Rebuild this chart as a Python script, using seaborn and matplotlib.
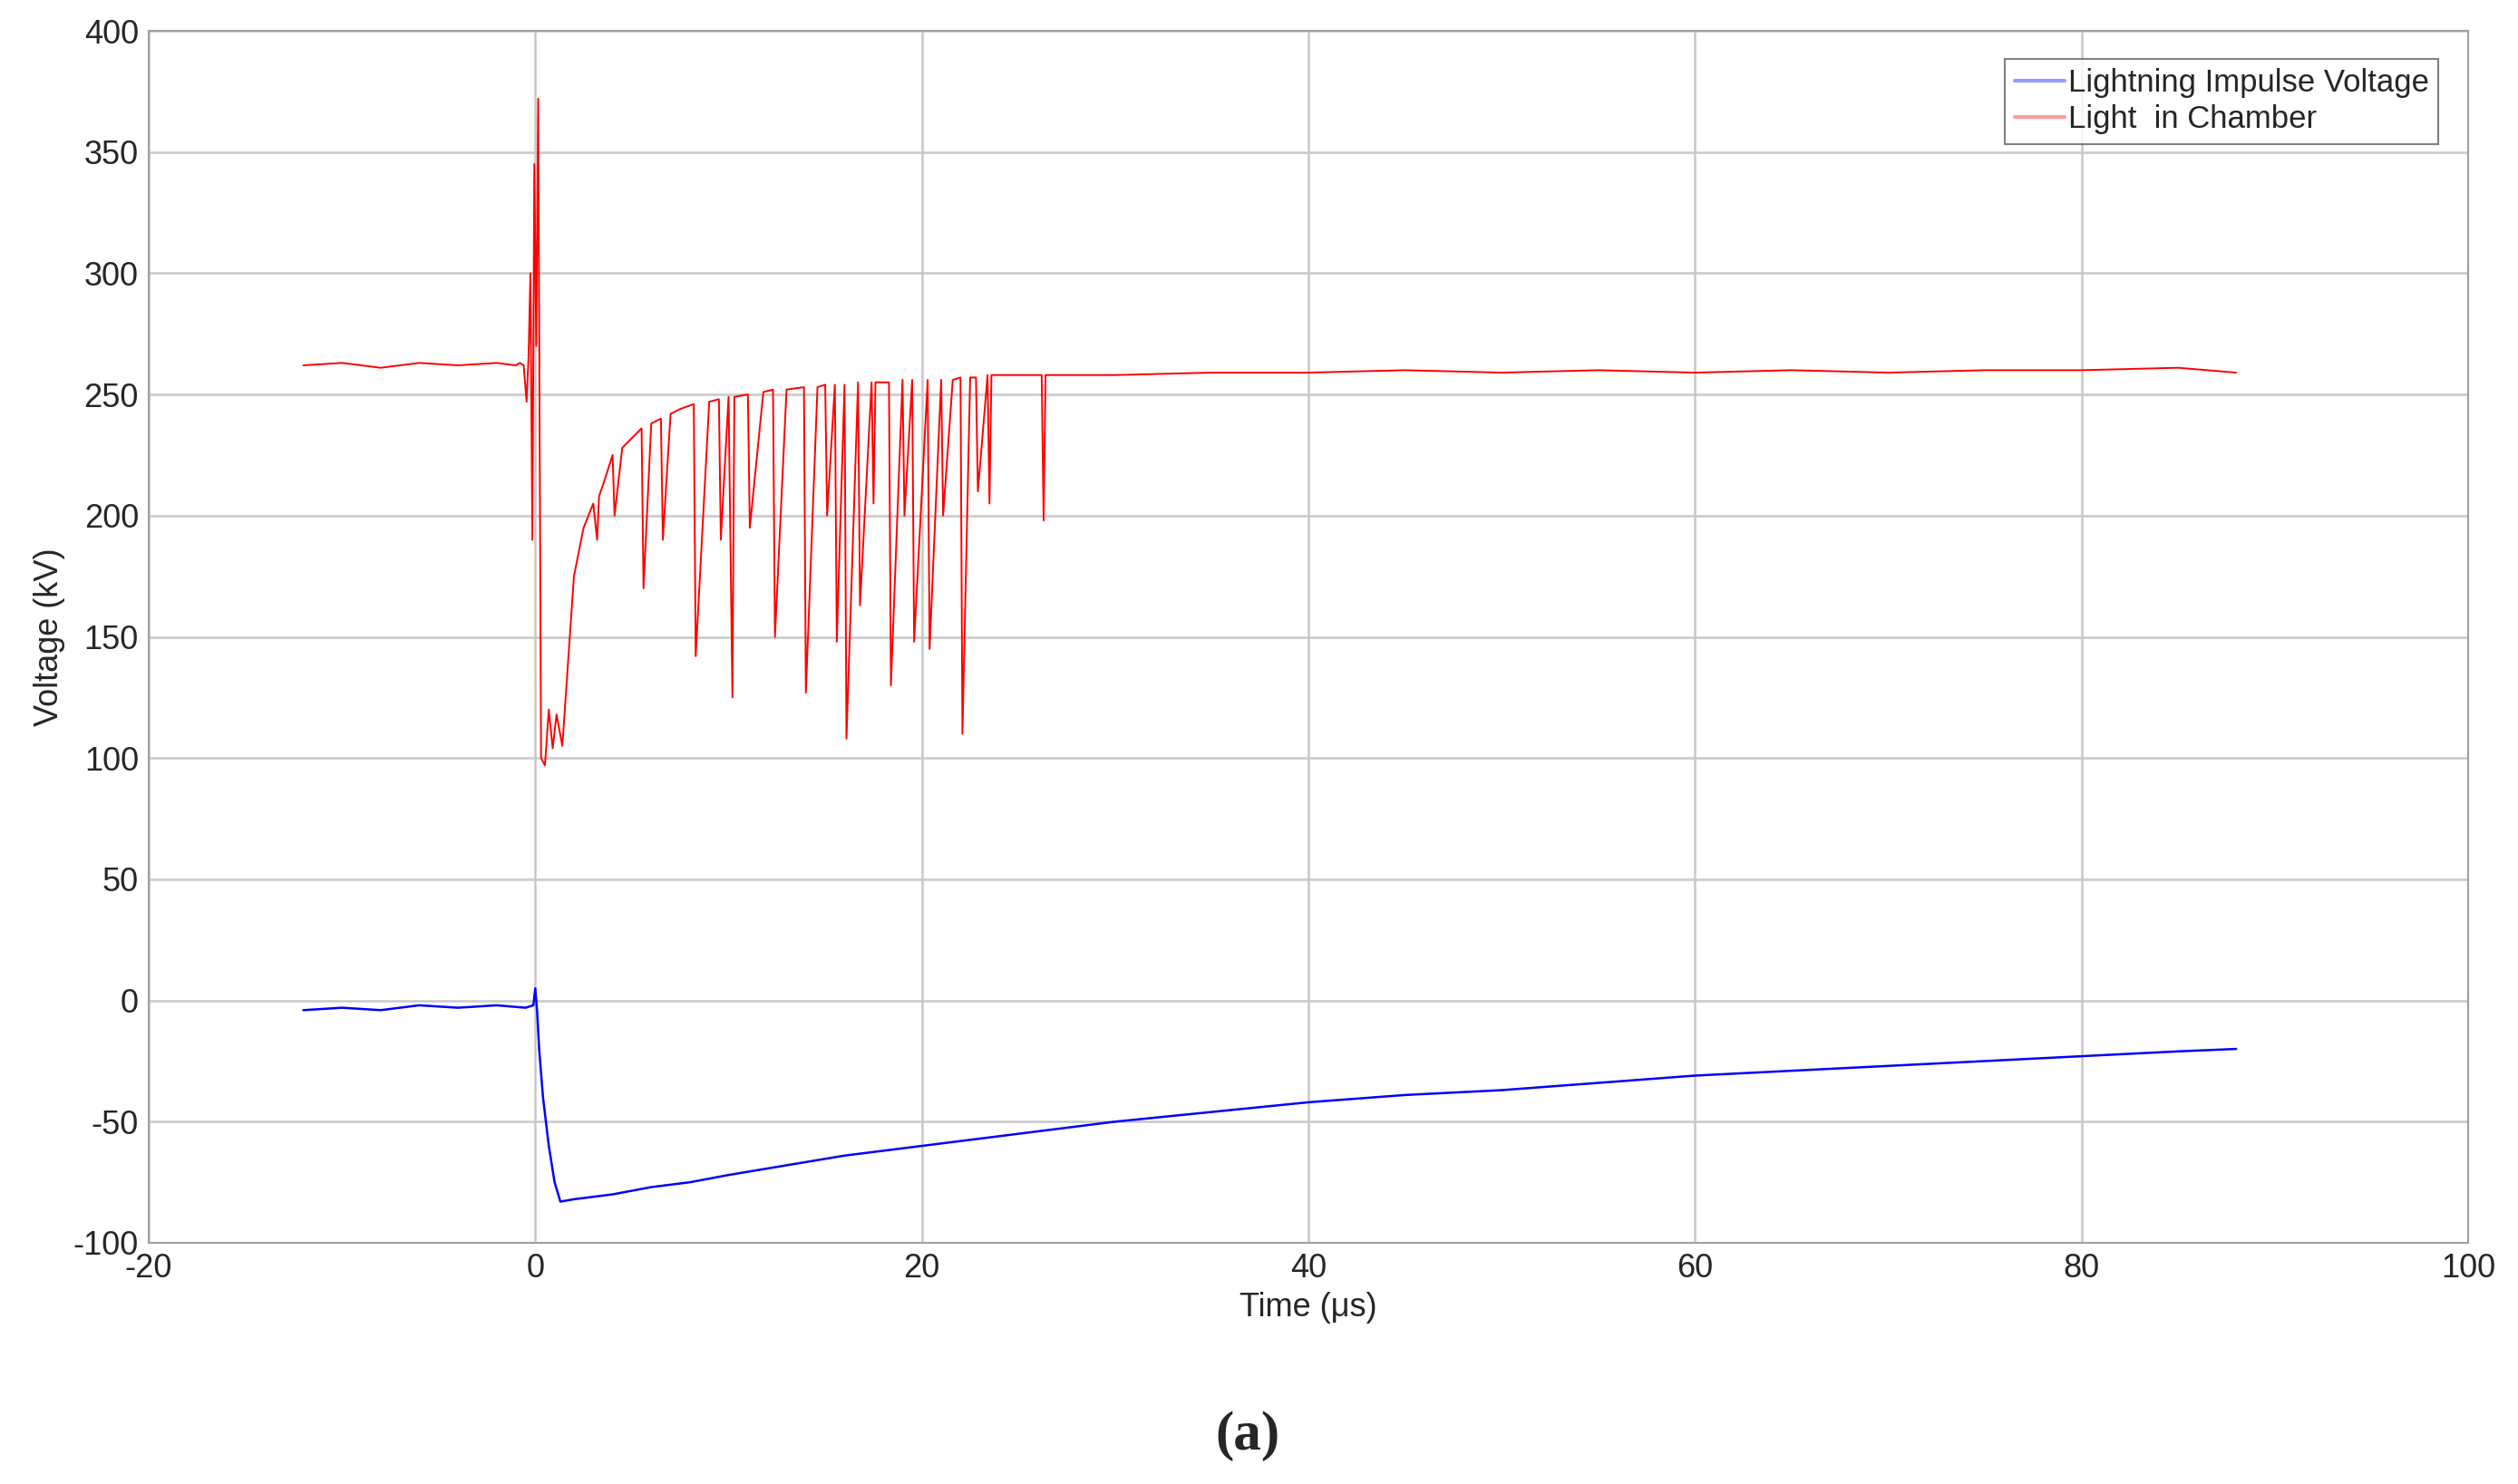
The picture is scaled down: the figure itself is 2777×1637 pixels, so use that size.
import numpy as np
import pandas as pd
import matplotlib
matplotlib.use("Agg")
import matplotlib.pyplot as plt
import seaborn as sns

# Light in chamber (red trace)
red_t = [-12, -10, -8, -6, -4, -2, -1, -0.8, -0.6, -0.45, -0.35, -0.25, -0.15, -0.05, 0.05, 0.15, 0.3,
         0.5, 0.7, 0.9, 1.1, 1.4, 1.7, 2.0, 2.5, 3.0, 3.2, 3.3, 3.6, 4.0, 4.1, 4.5, 5.0, 5.5, 5.6, 6.0,
         6.5, 6.6, 7.0, 7.5, 8.2, 8.3, 9.0, 9.5, 9.6, 10.0, 10.2, 10.3, 11.0, 11.1, 11.8, 12.3, 12.4,
         13.0, 13.9, 14.0, 14.6, 15.0, 15.1, 15.5, 15.6, 16.0, 16.1, 16.7, 16.8, 17.4, 17.5, 17.6,
         18.3, 18.4, 19.0, 19.1, 19.5, 19.6, 20.3, 20.4, 21.0, 21.1, 21.6, 22.0, 22.1, 22.5, 22.8,
         22.9, 23.4, 23.5, 23.6, 25.0, 26.2, 26.3, 26.4, 30, 35, 40, 45, 50, 55, 60, 65, 70, 75, 80,
         85, 88]
red_v = [262, 263, 261, 263, 262, 263, 262, 263, 262, 247, 265, 300, 190, 345, 270, 372, 100,
         97, 120, 104, 118, 105, 140, 175, 195, 205, 190, 208, 215, 225, 200, 228, 232, 236, 170,
         238, 240, 190, 242, 244, 246, 142, 247, 248, 190, 249, 125, 249, 250, 195, 251, 252, 150,
         252, 253, 127, 253, 254, 200, 254, 148, 254, 108, 255, 163, 255, 205, 255, 255, 130, 256,
         200, 256, 148, 256, 145, 256, 200, 256, 257, 110, 257, 257, 210, 258, 205, 258, 258, 258,
         198, 258, 258, 259, 259, 260, 259, 260, 259, 260, 259, 260, 260, 261, 259]

# Lightning impulse voltage (blue trace)
blue_t = [-12, -10, -8, -6, -4, -2, -0.5, -0.1, 0.0, 0.1, 0.2, 0.4, 0.7, 1.0, 1.3, 2, 4, 6, 8, 10,
          13, 16, 20, 25, 30, 35, 40, 45, 50, 55, 60, 65, 70, 75, 80, 85, 88]
blue_v = [-4, -3, -4, -2, -3, -2, -3, -2, 5, -5, -20, -40, -60, -75, -83, -82, -80, -77, -75, -72,
          -68, -64, -60, -55, -50, -46, -42, -39, -37, -34, -31, -29, -27, -25, -23, -21, -20]

sns.set_style("whitegrid")
plt.rcParams['font.family'] = ['Liberation Sans', 'DejaVu Sans']
plt.rcParams['axes.unicode_minus'] = False

fig = plt.figure(figsize=(27.77, 16.37), dpi=100)
ax = fig.add_axes([164 / 2777, 1 - 1371 / 1637, (2722 - 164) / 2777, (1371 - 34) / 1637])

blue_df = pd.DataFrame({'t': blue_t, 'v': blue_v})
red_df = pd.DataFrame({'t': red_t, 'v': red_v})
sns.lineplot(data=blue_df, x='t', y='v', ax=ax, color='#0000ff', lw=1.8, sort=False,
             label='Lightning Impulse Voltage')
sns.lineplot(data=red_df, x='t', y='v', ax=ax, color='#ff0000', lw=1.4, sort=False,
             label='Light  in Chamber')

ax.set_xlim(-20, 100)
ax.set_ylim(-100, 400)
ax.set_xticks(np.arange(-20, 101, 20))
ax.set_yticks(np.arange(-100, 401, 50))
ax.grid(True, color='#c8c8c8', lw=1.8)
for s in ax.spines.values():
    s.set_color('#a0a0a0')
    s.set_linewidth(1.5)
ax.tick_params(labelsize=26, colors='#262626', length=0, pad=8)
ax.set_xlabel('Time (\u03bcs)', fontsize=26, color='#262626', labelpad=6)
ax.set_ylabel('Voltage (kV)', fontsize=26, color='#262626', labelpad=6)

leg = ax.legend(loc='upper right', fontsize=25, frameon=True, fancybox=False,
                handlelength=1.6, handletextpad=0.1, borderpad=0.3, labelspacing=0.2,
                bbox_to_anchor=(0.994, 0.99))
leg.get_frame().set_edgecolor('#606060')
leg.get_frame().set_linewidth(1.5)
for h in leg.get_lines():
    h.set_alpha(0.4)
    h.set_linewidth(3)

fig.text(0.4955, 1 - 1584 / 1637, '(a)', ha='center', va='center', fontsize=44,
         family='Liberation Serif', weight='bold')

fig.savefig('out.png', dpi=100, facecolor='white')
